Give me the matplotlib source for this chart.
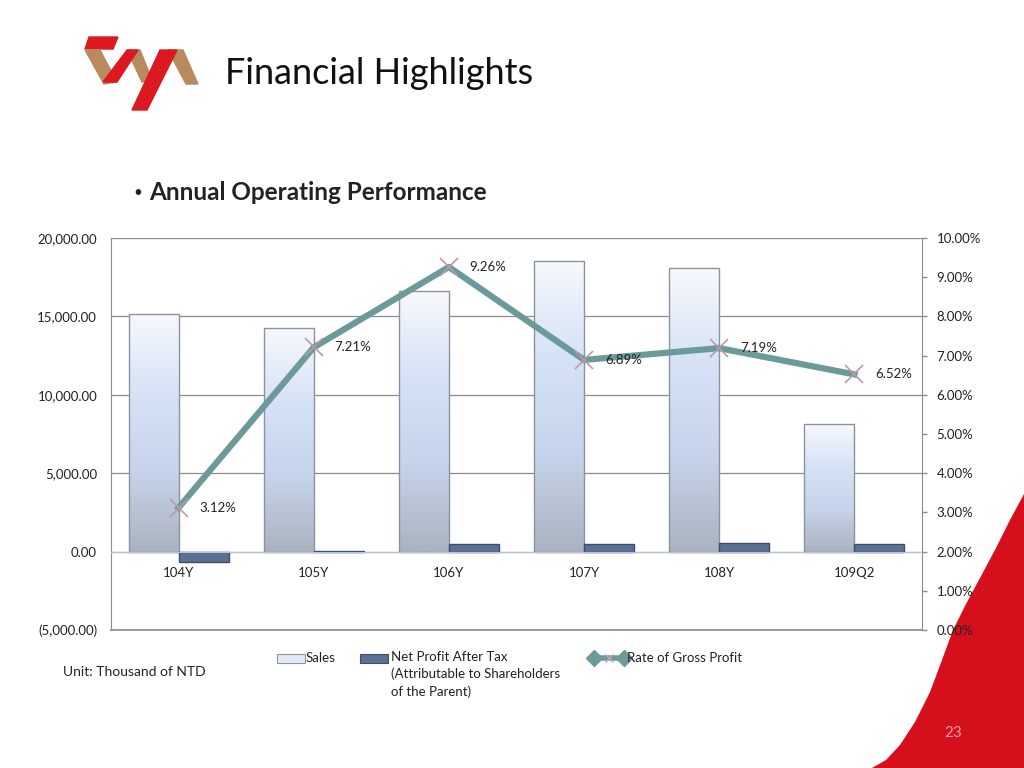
import numpy as np
import matplotlib.pyplot as plt
from matplotlib.patches import Polygon, Rectangle
from matplotlib.colors import LinearSegmentedColormap
from matplotlib.ticker import FuncFormatter, MultipleLocator

plt.rcParams['font.family'] = ['Lato', 'DejaVu Sans']

# data
categories = ['104Y', '105Y', '106Y', '107Y', '108Y', '109Q2']
sales = [15180, 14290, 16650, 18560, 18110, 8160]
net_profit = [-640, 40, 510, 510, 570, 510]
gross_rate = [3.12, 7.21, 9.26, 6.89, 7.19, 6.52]

fig = plt.figure(figsize=(10.24, 7.68), dpi=100)

# background / decoration layer in pixel coords
bg = fig.add_axes([0, 0, 1, 1])
bg.set_xlim(0, 1024)
bg.set_ylim(768, 0)
bg.axis('off')

# red swoosh bottom right
edge = [(872, 768), (886, 760), (900, 745), (915, 722), (930, 692), (942, 660), (953, 630),
        (966, 604), (980, 578), (996, 548), (1010, 520), (1024, 494)]
bg.add_patch(Polygon(edge + [(1024, 768)], facecolor='#d50f1c', edgecolor='none'))
bg.text(953, 733, '23', color='#e8a0a8', fontsize=11, ha='center', va='center')

# logo (rough)
red = '#dc1820'
bronze = '#b98a5e'
bg.add_patch(Polygon([(89, 37), (118, 37), (113, 49), (85, 49)], color=red))
bg.add_patch(Polygon([(85, 50), (100, 50), (117, 82), (104, 84)], color=bronze))
bg.add_patch(Polygon([(127, 50), (140, 50), (153, 82), (142, 82)], color=bronze))
bg.add_patch(Polygon([(103, 82), (117, 82), (138, 50), (127, 50)], color=red))
bg.add_patch(Polygon([(168, 50), (183, 50), (198, 84), (186, 84)], color=bronze))
bg.add_patch(Polygon([(160, 50), (177, 50), (147, 110), (132, 110)], color=red))

bg.text(225, 73, 'Financial Highlights', fontsize=26, va='center', ha='left', color='#111111')
bg.text(133, 193, '•', fontsize=11, va='center', ha='left', color='#222222')
bg.text(149, 193, 'Annual Operating Performance', fontsize=17.5, fontweight='bold', va='center', ha='left', color='#222222')
bg.text(63, 672, 'Unit: Thousand of NTD', fontsize=10, va='center', ha='left', color='#222222')

# legend drawn by hand
bg.add_patch(Rectangle((277, 654), 28, 9, facecolor='#e3eaf5', edgecolor='#8d949e', lw=0.8))
bg.text(306, 658, 'Sales', fontsize=9.5, va='center', ha='left', color='#222222')
bg.add_patch(Rectangle((360, 654), 28, 9, facecolor='#5b7095', edgecolor='#3e4e6a', lw=0.8))
bg.text(391, 651, 'Net Profit After Tax\n(Attributable to Shareholders\nof the Parent)', fontsize=9.5,
        va='top', ha='left', color='#222222', linespacing=1.45)
bg.plot([594, 624], [658, 658], color='#6b9a9b', lw=4, solid_capstyle='butt')
bg.plot([594, 624], [658, 658], 'D', color='#6b9a9b', ms=8)
bg.plot([609], [658], 'x', color='#c8a0b0', ms=6, mew=1)
bg.text(627, 658, 'Rate of Gross Profit', fontsize=9.5, va='center', ha='left', color='#222222')

# main chart
ax = fig.add_axes([111 / 1024, 138 / 768, 811 / 1024, 392 / 768])
ax.set_facecolor('none')
x = np.arange(len(categories))
w = 0.37

grad = np.linspace(0, 1, 256).reshape(-1, 1)
bar_cmap = LinearSegmentedColormap.from_list('barg', ['#f7f9fd', '#d6e2f6', '#c6d3ea', '#aab3bf'])

sales_bars = ax.bar(x - w / 2, sales, w, facecolor='none', edgecolor='#8a939e', lw=1, zorder=3)
for b in sales_bars:
    bx, by = b.get_x(), b.get_y()
    bw, bh = b.get_width(), b.get_height()
    im = ax.imshow(grad, cmap=bar_cmap, aspect='auto', extent=(bx, bx + bw, by, by + bh),
                   origin='upper', zorder=2)
    im.set_clip_path(b)

ax.bar(x + w / 2, net_profit, w, facecolor='#5b7095', edgecolor='#3e4e6a', lw=1, zorder=3)

ax.set_xlim(-0.5, len(categories) - 0.5)
ax.set_ylim(-5000, 20000)
ax.yaxis.set_major_locator(MultipleLocator(5000))


def money(v, pos):
    if v < 0:
        return '({:,.2f})'.format(-v)
    return '{:,.2f}'.format(v)


ax.yaxis.set_major_formatter(FuncFormatter(money))
ax.grid(axis='y', color='#8c8c8c', lw=0.9, zorder=0)
ax.set_axisbelow(True)
ax.spines['bottom'].set_position(('data', 0))
ax.spines['bottom'].set_color('#b7c1e0')
ax.spines['bottom'].set_zorder(4)
ax.spines['top'].set_visible(False)
ax.spines['left'].set_color('#8c8c8c')
ax.spines['right'].set_color('#8c8c8c')
ax.axhline(-5000, color='#8c8c8c', lw=1.2, clip_on=False)
ax.set_xticks(x)
ax.set_xticklabels(categories)
ax.tick_params(axis='x', length=0, pad=11, labelsize=9.5, labelcolor='#222222')
ax.tick_params(axis='y', length=0, pad=10, labelsize=9.5, labelcolor='#222222')

ax2 = ax.twinx()
ax2.set_ylim(0, 10)
ax2.yaxis.set_major_locator(MultipleLocator(1))
ax2.yaxis.set_major_formatter(FuncFormatter(lambda v, p: '{:.2f}%'.format(v)))
for s in ax2.spines.values():
    s.set_visible(False)
ax2.tick_params(axis='y', length=3.5, width=1, color='#8c8c8c', pad=7, labelsize=9.5, labelcolor='#222222')
ax2.plot(x, gross_rate, color='#6b9a9b', lw=4.5, zorder=5, solid_joinstyle='round')
ax2.plot(x, gross_rate, 'x', color='#b89aaa', ms=13, mew=1.2, zorder=6)
for xi, v in zip(x, gross_rate):
    ax2.annotate('{:.2f}%'.format(v), (xi, v), xytext=(15, 0), textcoords='offset points',
                 va='center', ha='left', fontsize=9.5, color='#222222', zorder=7)

fig.savefig('out.png', dpi=100)
